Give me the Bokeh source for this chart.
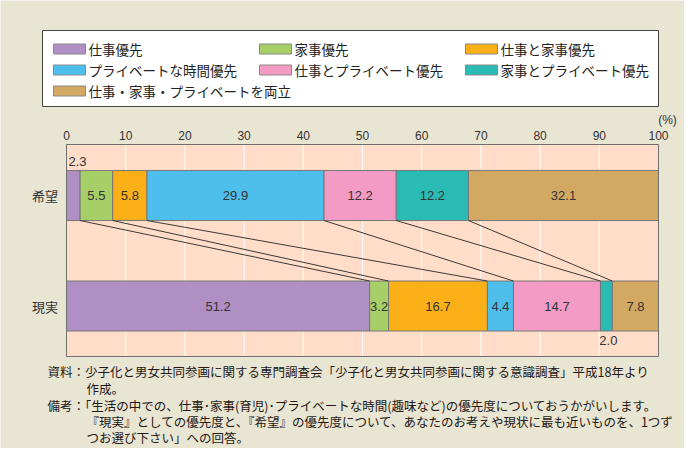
import numpy as np
from bokeh.plotting import figure
from bokeh.models import Range1d, ColumnDataSource
from bokeh.embed import file_html
from bokeh.resources import INLINE
from bokeh.core.properties import value

# ---------------- data ----------------
categories = ["希望", "現実"]
series = ["仕事優先", "家事優先", "仕事と家事優先", "プライベートな時間優先",
          "仕事とプライベート優先", "家事とプライベート優先", "仕事・家事・プライベートを両立"]
hope = [2.3, 5.5, 5.8, 29.9, 12.2, 12.2, 32.1]
real = [51.2, 3.2, 16.7, 4.4, 14.7, 2.0, 7.8]
colors = ["#B08FC4", "#A6D067", "#FCB017", "#4EBFEC", "#F39BC4", "#2BBBB5", "#D2A862"]
x_ticks = [0, 10, 20, 30, 40, 50, 60, 70, 80, 90, 100]
unit_label = "(%)"
notes = [
    "資料：少子化と男女共同参画に関する専門調査会「少子化と男女共同参画に関する意識調査」平成18年より",
    "作成。",
    "備考：「生活の中での、仕事･家事(育児)･プライベートな時間(趣味など)の優先度についておうかがいします。",
    "『現実』としての優先度と、『希望』の優先度について、あなたのお考えや現状に最も近いものを、1つず",
    "つお選び下さい」への回答。",
]

# ---------------- style / layout ----------------
BG = "#E9E5D3"
PLOT_BG = "#FFDDC8"
JP = "Noto Sans CJK JP"
NUM = "Liberation Sans"
TXT = "#333333"
W, H = 684, 448
PL, PR, PT, PB = 66, 658, 144, 356        # plot-area edges on the canvas (pixels)
X0, X1 = 0, 100                           # value axis extent
Y0, Y1 = 0.043, 1.962                     # category axis extent inside the plot area
ypos = [1.5, 0.5]
bar_h = 0.4525

xu = (X1 - X0) / (PR - PL)
yu = (Y1 - Y0) / (PB - PT)
p = figure(width=W, height=H,
           x_range=Range1d(X0 - PL * xu, X1 + (W - PR) * xu),
           y_range=Range1d(Y0 - (H - PB) * yu, Y1 + PT * yu),
           output_backend="svg", toolbar_location=None,
           x_axis_location=None, y_axis_location=None, min_border=0)
p.extra_x_ranges = {"px": Range1d(0, W)}
p.extra_y_ranges = {"py": Range1d(H, 0)}
p.background_fill_color = BG
p.border_fill_color = BG
p.outline_line_color = None
p.grid.visible = False
PX = dict(x_range_name="px", y_range_name="py")

# ---------------- plot area, grid, tick labels ----------------
p.quad(left=[X0], right=[X1], bottom=[Y0], top=[Y1], fill_color=PLOT_BG, line_color=None)
inner = x_ticks[1:-1]
p.segment(x0=inner, x1=inner, y0=[Y0] * len(inner), y1=[Y1] * len(inner),
          line_color="white", line_width=1)
p.text(x=x_ticks, y=[Y1] * len(x_ticks), text=[str(t) for t in x_ticks],
       text_font=value(NUM), text_font_size="12px", text_align="center",
       text_baseline="middle", text_color=TXT, y_offset=-9)
p.text(x=[X1], y=[Y1], text=[unit_label], text_font=value(NUM), text_font_size="12px",
       text_align="center", text_baseline="middle", text_color=TXT, x_offset=9, y_offset=-25)
p.text(x=[X0] * len(categories), y=ypos, text=categories, text_font=value(JP),
       text_font_size="13px", text_align="right", text_baseline="middle",
       text_color=TXT, x_offset=-8.5)

# ---------------- bars ----------------
bounds = []
for ci, (vals, y) in enumerate(zip([hope, real], ypos)):
    v = np.array(vals)
    right = np.cumsum(v)
    left = right - v
    bounds.append(right[:-1])
    src = ColumnDataSource(dict(y=[y] * len(v), left=left, right=right, color=colors))
    p.hbar(y="y", left="left", right="right", height=bar_h, fill_color="color",
           line_color="#777777", line_width=1, source=src)
    inside = v >= 3
    p.text(x=((left + right) / 2)[inside], y=[y] * int(inside.sum()),
           text=[f"{a:.1f}" for a in v[inside]], text_font=value(NUM), text_font_size="13px",
           text_align="center", text_baseline="middle", text_color=TXT)
    out = ~inside
    if out.any():
        if ci == 0:
            p.text(x=left[out], y=[y + bar_h / 2] * int(out.sum()),
                   text=[f"{a:.1f}" for a in v[out]], text_font=value(NUM),
                   text_font_size="13px", text_align="left", text_baseline="middle",
                   text_color=TXT, x_offset=2, y_offset=-9)
        else:
            p.text(x=((left + right) / 2)[out], y=[y - bar_h / 2] * int(out.sum()),
                   text=[f"{a:.1f}" for a in v[out]], text_font=value(NUM),
                   text_font_size="13px", text_align="center", text_baseline="middle",
                   text_color=TXT, x_offset=2, y_offset=9)

p.segment(x0=bounds[0], y0=[ypos[0] - bar_h / 2] * len(bounds[0]),
          x1=bounds[1], y1=[ypos[1] + bar_h / 2] * len(bounds[1]),
          line_color="#3a3a3a", line_width=1)

# plot-area outline on top
p.quad(left=[X0], right=[X1], bottom=[Y0], top=[Y1], fill_color=None,
       line_color="#707070", line_width=1)

# ---------------- legend box ----------------
p.quad(left=[42], right=[658], top=[30], bottom=[106], fill_color="white",
       line_color="#444444", line_width=1, **PX)
sx = [53 + 206 * (i % 3) for i in range(len(series))]
sy = [48.5 + 21 * (i // 3) for i in range(len(series))]
p.quad(left=sx, right=[x + 32 for x in sx], top=[y - 5 for y in sy],
       bottom=[y + 5 for y in sy], fill_color=colors, line_color="#8a8a8a",
       line_width=1, **PX)
p.text(x=[x + 35 for x in sx], y=sy, text=series, text_font=value(JP),
       text_font_size="13.5px", text_baseline="middle", text_color="#222222", **PX)

# ---------------- footnotes ----------------
fx = [47, 86, 47, 86, 86]
fy = [371, 387.5, 404.5, 420.5, 436.5]
p.text(x=fx, y=fy, text=notes, text_font=value(JP), text_font_size="12.5px",
       text_baseline="middle", text_color="#231815", **PX)

open("out.html", "w").write(file_html(p, INLINE))
